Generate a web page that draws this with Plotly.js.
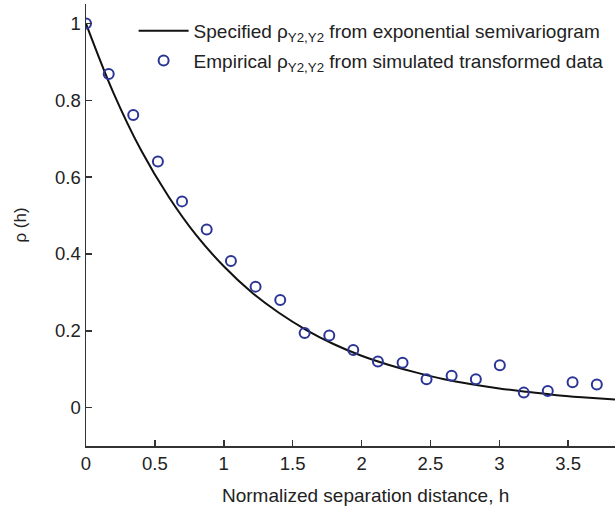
<!DOCTYPE html>
<html>
<head>
<meta charset="utf-8">
<script src="https://cdn.plot.ly/plotly-3.0.1.min.js"></script>
<style>html,body{margin:0;padding:0;background:#fff;}#chart{width:615px;height:509px;}</style>
</head>
<body>
<div id="chart"></div>
<script>
// Specified correlation curve
const specH = [0, 0.2, 0.4, 0.6, 0.8, 1.0, 1.2, 1.4, 1.6, 1.8, 2.0, 2.2, 2.4, 2.6, 2.8, 3.0, 3.2, 3.4, 3.6, 3.84];
const specRho = [1.0, 0.819, 0.670, 0.549, 0.449, 0.368, 0.301, 0.247, 0.202, 0.165, 0.135, 0.111, 0.091, 0.074, 0.061, 0.050, 0.041, 0.033, 0.027, 0.021];

// Empirical points
const empH = [0, 0.165, 0.343, 0.522, 0.697, 0.876, 1.052, 1.231, 1.41, 1.587, 1.766, 1.94, 2.119, 2.298, 2.472, 2.654, 2.83, 3.004, 3.178, 3.352, 3.532, 3.708];
const empRho = [1.0, 0.869, 0.762, 0.641, 0.537, 0.464, 0.382, 0.315, 0.280, 0.194, 0.188, 0.150, 0.120, 0.117, 0.074, 0.083, 0.074, 0.110, 0.039, 0.043, 0.066, 0.060];

const xTicks = [0, 0.5, 1, 1.5, 2, 2.5, 3, 3.5];
const xTickText = ['0', '0.5', '1', '1.5', '2', '2.5', '3', '3.5'];
const yTicks = [0, 0.2, 0.4, 0.6, 0.8, 1];
const yTickText = ['0', '0.2', '0.4', '0.6', '0.8', '1'];

const font = 'Liberation Sans, Arial, Helvetica, sans-serif';
const fs = 18.5;

const traces = [
  {
    x: specH, y: specRho, mode: 'lines', type: 'scatter', legendgroup: 'a',
    line: {color: '#111111', width: 2, shape: 'spline'},
    name: 'Specified ρ<sub>Y2,Y2</sub> from exponential semivariogram'
  },
  {
    x: empH, y: empRho, mode: 'markers', type: 'scatter', legendgroup: 'b',
    marker: {symbol: 'circle-open', size: 10, color: '#2b3596', line: {width: 2, color: '#2b3596'}},
    name: 'Empirical ρ<sub>Y2,Y2</sub> from simulated transformed data'
  }
];

const axisCommon = {
  showgrid: false, zeroline: false, showline: true, linecolor: '#333', linewidth: 1.5,
  ticks: 'inside', ticklen: 6, tickwidth: 1.5, tickcolor: '#333',
  tickfont: {family: font, size: fs, color: '#222'}, mirror: false
};

const layout = {
  width: 615, height: 509,
  margin: {l: 86, r: 0, t: 4, b: 63},
  paper_bgcolor: '#fff', plot_bgcolor: '#fff',
  font: {family: font, color: '#222'},
  showlegend: true,
  legend: {x: 0.09, y: 0.982, xanchor: 'left', yanchor: 'top', bgcolor: 'rgba(0,0,0,0)',
           font: {family: font, size: 19, color: '#222'}, tracegroupgap: 2, itemwidth: 50},
  xaxis: Object.assign({}, axisCommon, {
    range: [0, 3.84], tickvals: xTicks, ticktext: xTickText
  }),
  yaxis: Object.assign({}, axisCommon, {
    range: [-0.1, 1.051], tickvals: yTicks, ticktext: yTickText,
    title: {text: 'ρ (h)', font: {family: font, size: 17, color: '#222'}, standoff: 24}
  }),
  annotations: [{
    text: 'Normalized separation distance, h', xref: 'paper', yref: 'paper',
    x: 0.528, y: -0.111, xanchor: 'center', yanchor: 'middle', showarrow: false,
    font: {family: font, size: 19, color: '#222'}
  }]
};

Plotly.newPlot('chart', traces, layout, {displayModeBar: false, staticPlot: true});
</script>
</body>
</html>
